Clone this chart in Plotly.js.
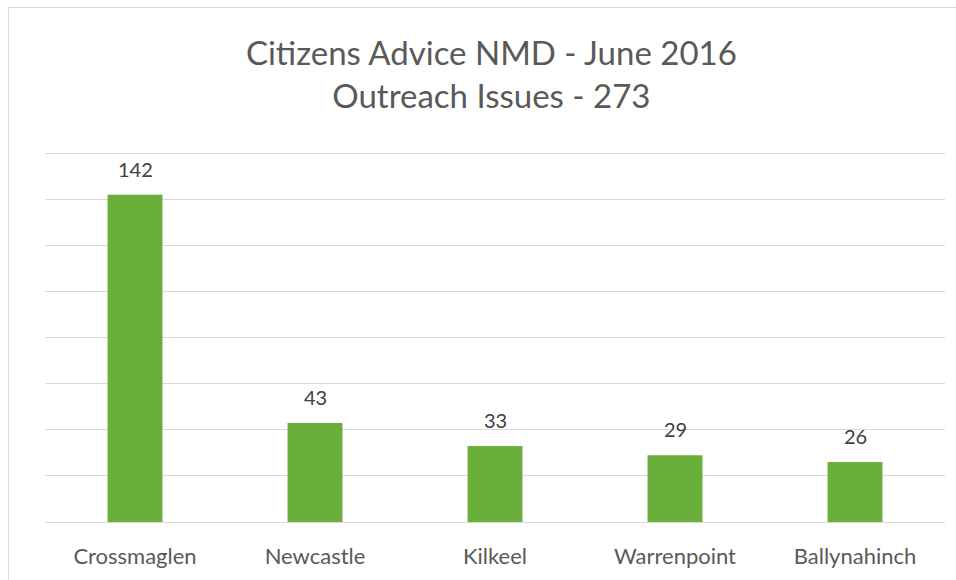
<!DOCTYPE html>
<html>
<head>
<meta charset="utf-8">
<script src="https://cdn.plot.ly/plotly-3.0.1.min.js"></script>
<style>
html,body{margin:0;padding:0;background:#fff;}
#chart{width:956px;height:580px;}
#frame{position:absolute;left:8px;top:7px;width:960px;height:600px;border-left:1px solid #d9d9d9;border-top:1px solid #d9d9d9;pointer-events:none;}
</style>
</head>
<body>
<div id="chart"></div>
<div id="frame"></div>
<script>
const categories = ["Crossmaglen", "Newcastle", "Kilkeel", "Warrenpoint", "Ballynahinch"];
const issues = [142, 43, 33, 29, 26];
const titleLines = ["Citizens Advice NMD - June 2016", "Outreach Issues - 273"];

const FONT = "Lato, 'Open Sans', sans-serif";

const trace = {
  type: "bar",
  x: categories,
  y: issues,
  width: 0.305,
  marker: {color: "#6aae3c"},
  hoverinfo: "none"
};

const annotations = categories.map((c, i) => ({
  x: c, y: issues[i], xref: "x", yref: "y",
  text: String(issues[i]),
  showarrow: false,
  yanchor: "middle",
  yshift: 26,
  font: {family: FONT, size: 20, color: "#404040"}
}));

const layout = {
  width: 956, height: 580,
  margin: {l: 45, r: 11, t: 151, b: 58},
  paper_bgcolor: "#ffffff",
  plot_bgcolor: "#ffffff",
  showlegend: false,
  title: {
    text: titleLines.join("<br>"),
    x: 0.514, xanchor: "center",
    yref: "container",
    y: 0.888, yanchor: "middle",
    font: {family: FONT, size: 33, color: "#595959"}
  },
  xaxis: {
    type: "category",
    showgrid: false,
    zeroline: false,
    showline: false,
    ticks: "outside",
    ticklen: 15,
    tickcolor: "rgba(0,0,0,0)",
    tickfont: {family: FONT, size: 22, color: "#595959"}
  },
  yaxis: {
    range: [0, 161],
    tickvals: [0, 20, 40, 60, 80, 100, 120, 140, 160],
    showticklabels: false,
    showgrid: true,
    gridcolor: "#d9d9d9",
    gridwidth: 1,
    zeroline: true,
    zerolinecolor: "#d9d9d9",
    zerolinewidth: 1
  },
  annotations: annotations
};

Plotly.newPlot("chart", [trace], layout, {displayModeBar: false, staticPlot: true});
</script>
</body>
</html>
